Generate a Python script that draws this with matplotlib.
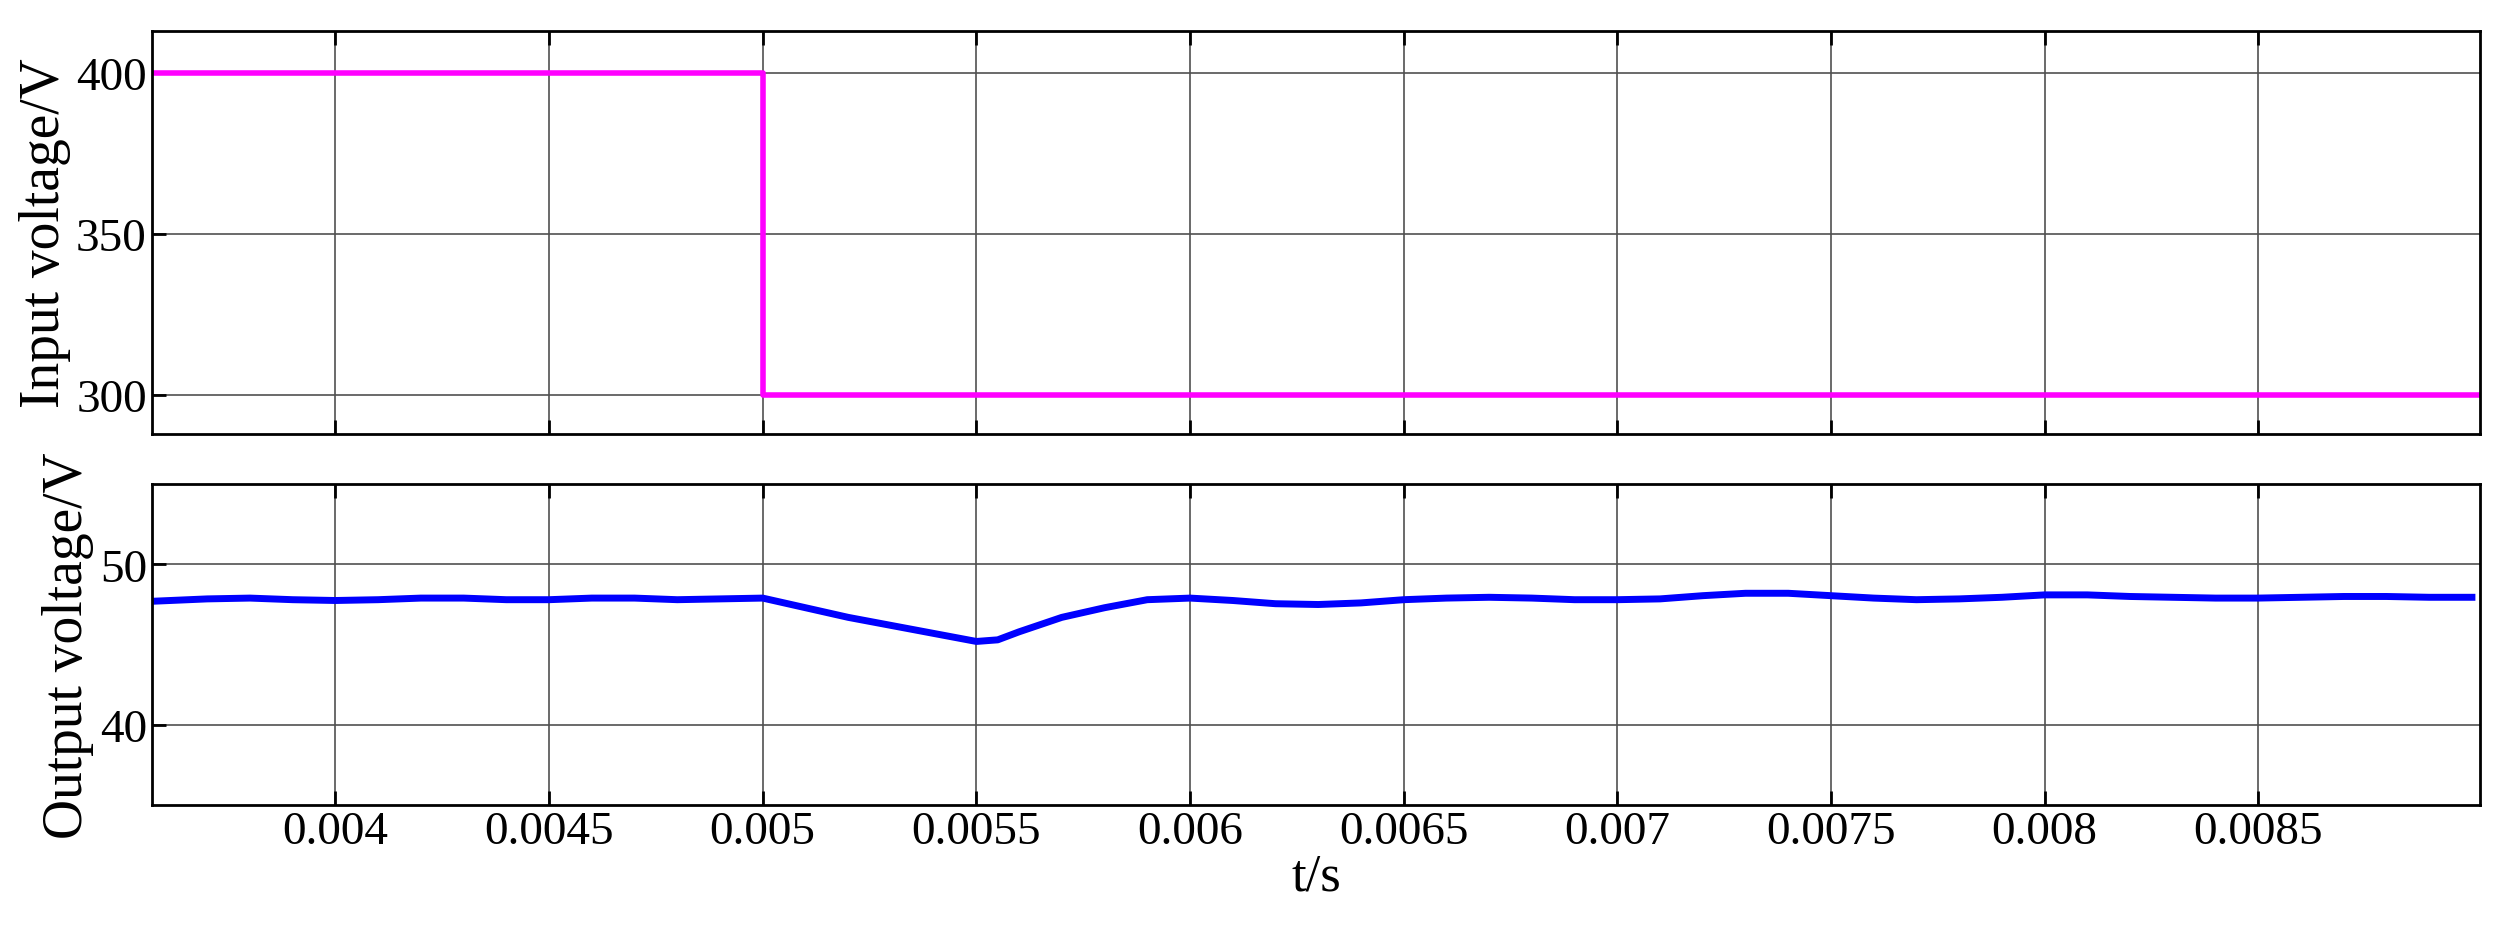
import matplotlib.pyplot as plt

# input voltage step
t_in = [0.0035, 0.005, 0.005, 0.0091]
v_in = [400, 400, 300, 300]

# output voltage
t_out = [0.00357, 0.0037, 0.0038, 0.0039, 0.0040, 0.0041, 0.0042, 0.0043, 0.0044,
         0.0045, 0.0046, 0.0047, 0.0048, 0.0049, 0.0050, 0.0051, 0.0052, 0.0053,
         0.0054, 0.0055, 0.00555, 0.0056, 0.0057, 0.0058, 0.0059, 0.0060, 0.0061,
         0.0062, 0.0063, 0.0064, 0.0065, 0.0066, 0.0067, 0.0068, 0.0069, 0.0070,
         0.0071, 0.0072, 0.0073, 0.0074, 0.0075, 0.0076, 0.0077, 0.0078, 0.0079,
         0.0080, 0.0081, 0.0082, 0.0083, 0.0084, 0.0085, 0.0086, 0.0087, 0.0088,
         0.0089, 0.0090]
v_out = [47.7, 47.85, 47.9, 47.8, 47.75, 47.8, 47.9, 47.9, 47.8,
         47.8, 47.9, 47.9, 47.8, 47.85, 47.9, 47.3, 46.7, 46.2,
         45.7, 45.2, 45.3, 45.8, 46.7, 47.3, 47.8, 47.9, 47.75,
         47.55, 47.5, 47.6, 47.8, 47.9, 47.95, 47.9, 47.8, 47.8,
         47.85, 48.05, 48.2, 48.2, 48.05, 47.9, 47.8, 47.85, 47.95,
         48.1, 48.1, 48.0, 47.95, 47.9, 47.9, 47.95, 48.0, 48.0,
         47.95, 47.95]

xticks = [0.004, 0.0045, 0.005, 0.0055, 0.006, 0.0065, 0.007, 0.0075, 0.008, 0.0085]
xlabels = ['0.004', '0.0045', '0.005', '0.0055', '0.006', '0.0065', '0.007', '0.0075', '0.008', '0.0085']

plt.rcParams['font.family'] = ['Liberation Serif', 'DejaVu Serif']
fig = plt.figure(figsize=(25.03, 9.53), dpi=100)
ax1 = fig.add_axes([0.0606, 0.544, 0.9304, 0.4225])
ax2 = fig.add_axes([0.0606, 0.154, 0.9304, 0.337])

for ax in (ax1, ax2):
    ax.set_xlim(0.00357, 0.00902)
    ax.set_xticks(xticks)
    ax.grid(True, color='#505050', linewidth=1.2)
    ax.tick_params(direction='in', length=10, width=2, top=True, labelsize=34, color='black')
    for s in ax.spines.values():
        s.set_linewidth(2)

ax1.plot(t_in, v_in, color='#ff00ff', linewidth=4)
ax1.set_ylim(288, 413)
ax1.set_yticks([300, 350, 400])
ax1.set_xticklabels([])
ax1.set_ylabel('Input voltage/V', fontsize=40, labelpad=4)

ax2.plot(t_out, v_out, color='#0000ff', linewidth=5)
ax2.set_ylim(35, 55)
ax2.set_yticks([40, 50])
ax2.set_xticklabels(xlabels)
ax2.set_ylabel('Output voltage/V', fontsize=40, labelpad=4)
ax2.set_xlabel('t/s', fontsize=38, labelpad=0)

fig.savefig('out.png')
